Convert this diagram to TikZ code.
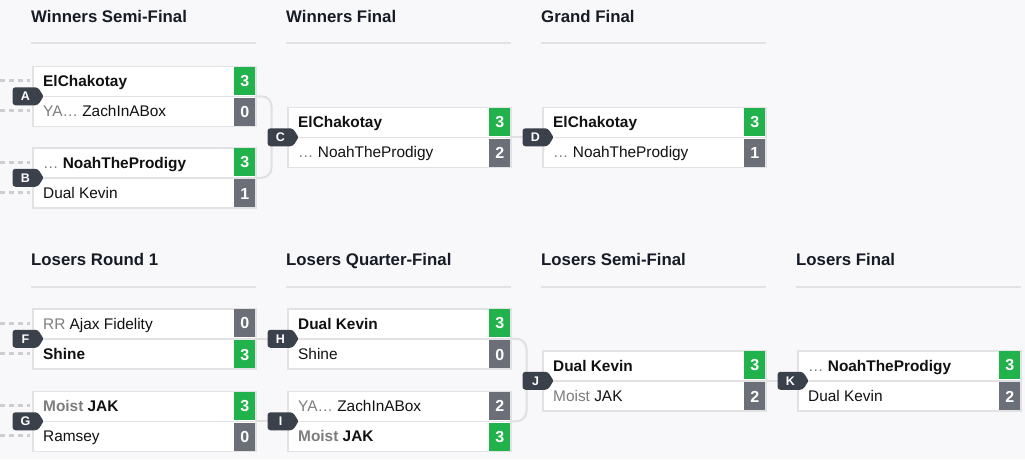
\documentclass[tikz,border=0pt]{standalone}
\usepackage{fontspec}
\setmainfont{Liberation Sans}
\usetikzlibrary{calc}
\definecolor{bgc}{HTML}{F8F8FA}
\definecolor{boxline}{HTML}{E2E2E5}
\definecolor{wingreen}{HTML}{21B24B}
\definecolor{losegray}{HTML}{6B7078}
\definecolor{badgec}{HTML}{3B414B}
\definecolor{headc}{HTML}{161B26}
\definecolor{connc}{HTML}{E0E0E3}
\definecolor{dashc}{HTML}{CDCDD2}
\definecolor{prec}{HTML}{7D7D7D}
\definecolor{namec}{HTML}{111111}
\pgfdeclarelayer{bg}
\pgfdeclarelayer{back}
\pgfsetlayers{bg,back,main}
\tikzset{
  matchbox/.style={draw=boxline,fill=white,line width=1.5pt,minimum width=223pt,minimum height=60pt,inner sep=0pt},
  rowsep/.style={draw=boxline,line width=1.5pt},
  scorecell/.style={minimum width=21pt,minimum height=28pt,inner sep=0pt,text=white,font=\fontsize{16}{16}\selectfont\bfseries,text height=11.4pt,text depth=0pt},
  namecell/.style={inner sep=0pt,text=namec,font=\fontsize{15.4}{15.4}\selectfont,text height=11pt,text depth=0pt},
  badgebody/.style={fill=badgec},
  badge/.style={text=white,font=\fontsize{12.5}{12.5}\selectfont\bfseries,minimum height=18pt,minimum width=25pt,inner sep=0pt,text height=9pt,text depth=0pt},
  header/.style={anchor=west,inner sep=0pt,text=headc,font=\fontsize{16.8}{16.8}\selectfont\bfseries,text height=12pt,text depth=0pt},
  hline/.style={draw=boxline,line width=1.5pt},
  conn/.style={draw=connc,line width=2pt},
  dashline/.style={draw=dashc,line width=3pt,dash pattern=on 5pt off 4pt},
}
\newcommand\bmatch[8]{%
  \node[matchbox,anchor=north west] (m#1) at (#2) {};
  \draw[rowsep] (m#1.west) -- (m#1.east);
  \node[scorecell,fill=#5,anchor=north east] (m#1ts) at ([xshift=-1pt,yshift=-1pt]m#1.north east) {#4};
  \node[scorecell,fill=#8,anchor=south east] (m#1bs) at ([xshift=-1pt,yshift=1pt]m#1.south east) {#7};
  \node[namecell,anchor=west] (m#1tn) at ([xshift=11pt,yshift=15pt]m#1.west) {#3};
  \node[namecell,anchor=west] (m#1bn) at ([xshift=11pt,yshift=-15pt]m#1.west) {#6};
  \fill[badgebody,rounded corners=3pt] ([xshift=-19.5pt,yshift=9pt]m#1.west) -- ([xshift=6pt,yshift=9pt]m#1.west)
     [rounded corners=1pt] -- ([xshift=11.5pt]m#1.west) [rounded corners=3pt] -- ([xshift=6pt,yshift=-9pt]m#1.west)
     -- ([xshift=-19.5pt,yshift=-9pt]m#1.west) -- cycle;
  \node[badge] (b#1) at ([xshift=-6.5pt]m#1.west) {#1};
}
\newcommand\pre[1]{{\color{prec}#1}}
\begin{document}
\begin{tikzpicture}[x=1pt,y=-1pt]
\begin{pgfonlayer}{bg}
\fill[bgc] (0,0) rectangle (1025,459);
\end{pgfonlayer}
\useasboundingbox (0,0) rectangle (1025,459);

% headers
\node[header] (h1) at (31,16) {Winners Semi-Final};
\node[header] (h2) at (286,16) {Winners Final};
\node[header] (h3) at (541,16) {Grand Final};
\node[header] (h4) at (31,259) {Losers Round 1};
\node[header] (h5) at (286,259) {Losers Quarter-Final};
\node[header] (h6) at (541,259) {Losers Semi-Final};
\node[header] (h7) at (796,259) {Losers Final};
\draw[hline] (31,43) -- (256,43);
\draw[hline] (286,43) -- (511,43);
\draw[hline] (541,43) -- (766,43);
\draw[hline] (31,287) -- (256,287);
\draw[hline] (286,287) -- (511,287);
\draw[hline] (541,287) -- (766,287);
\draw[hline] (796,287) -- (1021,287);

% matches
\bmatch{A}{32,65.5}{\textbf{ElChakotay}}{3}{wingreen}{\pre{YA…} ZachInABox}{0}{losegray}
\bmatch{B}{32,147}{\pre{…} \textbf{NoahTheProdigy}}{3}{wingreen}{Dual Kevin}{1}{losegray}
\bmatch{C}{287,106.5}{\textbf{ElChakotay}}{3}{wingreen}{\pre{…} NoahTheProdigy}{2}{losegray}
\bmatch{D}{542,106.5}{\textbf{ElChakotay}}{3}{wingreen}{\pre{…} NoahTheProdigy}{1}{losegray}
\bmatch{F}{32,308}{\pre{RR} Ajax Fidelity}{0}{losegray}{\textbf{Shine}}{3}{wingreen}
\bmatch{G}{32,390.5}{\textbf{\pre{Moist} JAK}}{3}{wingreen}{Ramsey}{0}{losegray}
\bmatch{H}{287,308}{\textbf{Dual Kevin}}{3}{wingreen}{Shine}{0}{losegray}
\bmatch{I}{287,390.5}{\pre{YA…} ZachInABox}{2}{losegray}{\textbf{\pre{Moist} JAK}}{3}{wingreen}
\bmatch{J}{542,350}{\textbf{Dual Kevin}}{3}{wingreen}{\pre{Moist} JAK}{2}{losegray}
\bmatch{K}{797,350}{\pre{…} \textbf{NoahTheProdigy}}{3}{wingreen}{Dual Kevin}{2}{losegray}

% dashed feeders
\coordinate (dA1) at (0,80.5);  \coordinate (eA1) at (30,80.5);
\coordinate (dA2) at (0,110.5); \coordinate (eA2) at (30,110.5);
\coordinate (dB1) at (0,162);   \coordinate (eB1) at (30,162);
\coordinate (dB2) at (0,192);   \coordinate (eB2) at (30,192);
\coordinate (dF1) at (0,323);   \coordinate (eF1) at (30,323);
\coordinate (dF2) at (0,353);   \coordinate (eF2) at (30,353);
\coordinate (dG1) at (0,405.5); \coordinate (eG1) at (30,405.5);
\coordinate (dG2) at (0,435.5); \coordinate (eG2) at (30,435.5);
\begin{pgfonlayer}{back}
\foreach \p in {A1,A2,B1,B2,F1,F2,G1,G2} \draw[dashline] (d\p) -- (e\p);
\draw[conn,rounded corners=10pt] (mA.east) -- ++(15,0) |- (mB.east);
\draw[conn] (mC.east) -- (bD);
\draw[conn] (mF.east) -- (bH);
\draw[conn] (mG.east) -- (bI);
\draw[conn,rounded corners=10pt] (mH.east) -- ++(15,0) |- (mI.east);
\draw[conn] (mJ.east) -- (bK);
\end{pgfonlayer}
\end{tikzpicture}
\end{document}
